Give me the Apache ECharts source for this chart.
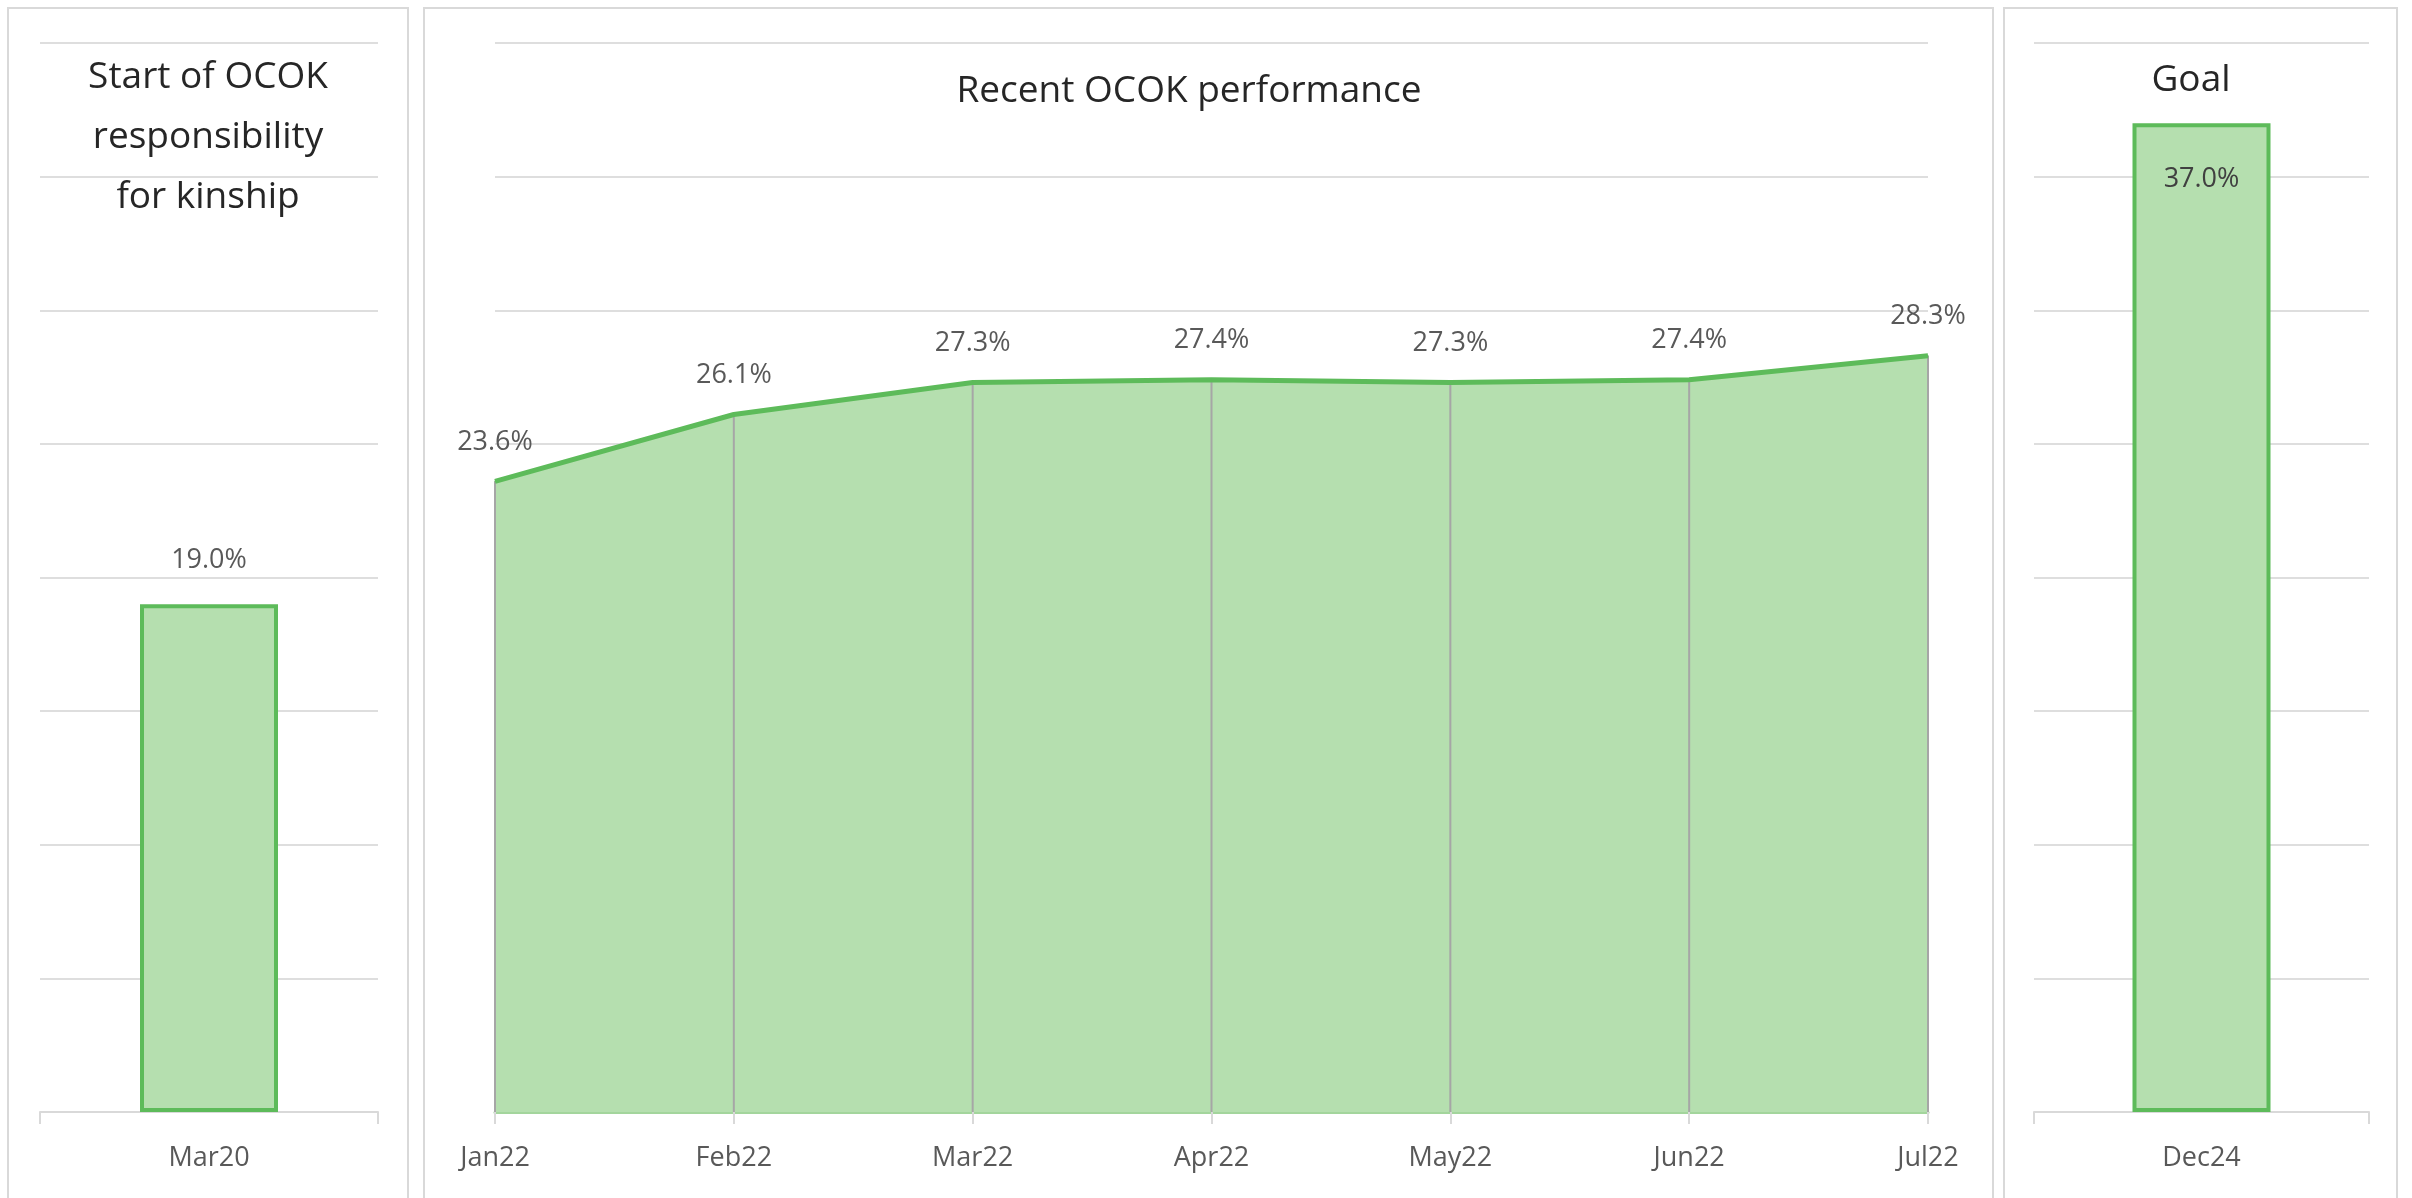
<!DOCTYPE html>
<html>
<head>
<meta charset="utf-8">
<script src="https://cdn.jsdelivr.net/npm/echarts@6/dist/echarts.min.js"></script>
<style>
  html, body { margin: 0; padding: 0; background: #fff; }
  #chart { width: 2412px; height: 1198px; }
</style>
</head>
<body>
<div id="chart"></div>
<script>
// chart values
const startCategories = ['Mar20'];
const startValues = [19.0];
const recentCategories = ['Jan22', 'Feb22', 'Mar22', 'Apr22', 'May22', 'Jun22', 'Jul22'];
const recentValues = [23.6, 26.1, 27.3, 27.4, 27.3, 27.4, 28.3];
const goalCategories = ['Dec24'];
const goalValues = [37.0];
const yMin = 0;
const yMax = 40;
const yStep = 5;

const green = '#5DBB5A';
const greenFill = '#B5DFAF';
const gridGray = '#dedede';
const labelGray = '#595959';
const font = 'Open Sans';

const chart = echarts.init(document.getElementById('chart'));

const pct = p => p.value.toFixed(1) + '%';

function valueAxis(idx) {
  return {
    type: 'value',
    gridIndex: idx,
    min: yMin,
    max: yMax,
    interval: yStep,
    axisLabel: { show: false },
    axisLine: { show: false },
    axisTick: { show: false },
    splitLine: { lineStyle: { color: gridGray, width: 2 } }
  };
}

function catAxis(idx, data, extra) {
  return Object.assign({
    type: 'category',
    gridIndex: idx,
    data: data,
    axisLine: { lineStyle: { color: '#d9d9d9', width: 2 } },
    axisTick: { show: true, length: 12, lineStyle: { color: '#d9d9d9', width: 2 } },
    axisLabel: { color: labelGray, fontSize: 27, fontFamily: font, margin: 33 }
  }, extra || {});
}

// panel frames
const frames = [
  [8, 8, 400], [424, 8, 1569], [2004, 8, 393]
].map(f => ({
  type: 'rect',
  shape: { x: f[0], y: f[1], width: f[2], height: 1220 },
  style: { fill: 'none', stroke: '#d9d9d9', lineWidth: 2 },
  silent: true
}));

const titleStyle = { fontSize: 37, fontWeight: 'normal', color: '#262626', fontFamily: font, lineHeight: 60 };

const option = {
  animation: false,
  backgroundColor: '#fff',
  graphic: frames,
  title: [
    { text: 'Start of OCOK\nresponsibility\nfor kinship', left: 208, top: 47, textAlign: 'center', padding: 0, textStyle: titleStyle },
    { text: 'Recent OCOK performance', left: 1189, top: 61, textAlign: 'center', padding: 0, textStyle: titleStyle },
    { text: 'Goal', left: 2191, top: 50, textAlign: 'center', padding: 0, textStyle: titleStyle }
  ],
  grid: [
    { left: 40, top: 43, width: 338, bottom: 86 },
    { left: 495, top: 43, width: 1433, bottom: 86 },
    { left: 2034, top: 43, width: 335, bottom: 86 }
  ],
  xAxis: [
    catAxis(0, startCategories),
    catAxis(1, recentCategories, {
      boundaryGap: false,
      axisLine: { lineStyle: { color: '#a3d59c', width: 3 } }
    }),
    catAxis(2, goalCategories)
  ],
  yAxis: [valueAxis(0), valueAxis(1), valueAxis(2)],
  series: [
    {
      type: 'bar',
      xAxisIndex: 0, yAxisIndex: 0,
      data: startValues,
      barWidth: 138,
      itemStyle: { color: greenFill, borderColor: green, borderWidth: 4 },
      label: { show: true, position: 'top', distance: 30, formatter: pct, color: labelGray, fontSize: 27, fontFamily: font }
    },
    {
      // area fill
      type: 'line',
      xAxisIndex: 1, yAxisIndex: 1,
      data: recentValues,
      symbol: 'none',
      lineStyle: { width: 0 },
      areaStyle: { color: greenFill, opacity: 1 },
      z: 2
    },
    {
      // drop lines
      type: 'bar',
      xAxisIndex: 1, yAxisIndex: 1,
      data: recentValues,
      barWidth: 2,
      itemStyle: { color: '#a6a6a6' },
      z: 3
    },
    {
      type: 'line',
      xAxisIndex: 1, yAxisIndex: 1,
      data: recentValues,
      symbol: 'circle',
      symbolSize: 1,
      itemStyle: { color: green },
      lineStyle: { color: green, width: 5 },
      label: { show: true, position: 'top', distance: 25, formatter: pct, color: labelGray, fontSize: 27, fontFamily: font },
      z: 4
    },
    {
      type: 'bar',
      xAxisIndex: 2, yAxisIndex: 2,
      data: goalValues,
      barWidth: 138,
      itemStyle: { color: greenFill, borderColor: green, borderWidth: 4 },
      label: { show: true, position: 'insideTop', distance: 43, formatter: pct, color: '#404040', fontSize: 27, fontFamily: font }
    }
  ]
};

chart.setOption(option);
window.addEventListener('resize', () => chart.resize());
</script>
</body>
</html>
